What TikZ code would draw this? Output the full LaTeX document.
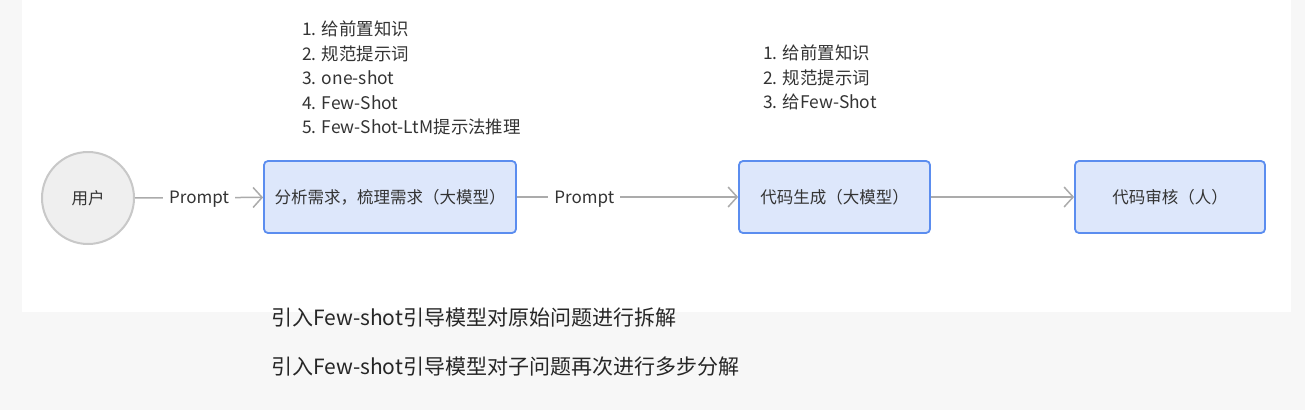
\documentclass[tikz,border=0pt]{standalone}
\usepackage{fontspec}
\setmainfont{Noto Sans CJK SC}
\usetikzlibrary{arrows.meta, positioning}
\definecolor{pageGray}{HTML}{F7F7F7}
\definecolor{stepFill}{HTML}{DDE7FB}
\definecolor{stepLine}{HTML}{5B8DEF}
\definecolor{userFill}{HTML}{EFEFEF}
\definecolor{userLine}{HTML}{C8C8C8}
\definecolor{flowLine}{HTML}{ABABAB}
\definecolor{tipText}{HTML}{333333}
\tikzset{stepbox/.style={draw=stepLine, line width=1.8pt, fill=stepFill, rounded corners=4pt,
    minimum width=#1, minimum height=72pt, inner sep=0pt, font=\fontsize{16.5}{16.5}\selectfont, text=tipText}}
\tikzset{flow/.style={draw=flowLine, line width=1.5pt, -{Straight Barb[length=9pt,width=20pt]}}}
\tikzset{tag/.style={fill=white, inner sep=6pt, text depth=0pt, text=tipText, font=\fontsize{17}{17}\selectfont}}
\tikzset{tip/.style={anchor=west, inner sep=0pt, text=tipText, font=\fontsize{17.4}{17.4}\selectfont}}
\tikzset{note/.style={anchor=west, inner sep=0pt, text=black!85, font=\fontsize{21}{21}\selectfont}}

\begin{document}
\begin{tikzpicture}[x=1pt, y=-1pt]
  \useasboundingbox (0,0) rectangle (1305,410);
  % Background
  \fill[pageGray] (0,0) rectangle (1305,410);
  \fill[white] (22,0) rectangle (1291,312);

  % Steps
  \node[circle, draw=userLine, line width=2pt, fill=userFill, minimum size=92pt, inner sep=0pt,
    text=tipText, font=\fontsize{16.5}{16.5}\selectfont] (user) at (88,198) {用户};
  \node[stepbox=252pt] (analyze) at (390,197) {分析需求，梳理需求（大模型）};
  \node[stepbox=191pt] (codegen) at (834.5,197) {代码生成（大模型）};
  \node[stepbox=190pt] (review) at (1170,197) {代码审核（人）};

  % Connectors
  \draw[flow] (user) -- (analyze) node[tag, midway] (promptA) {Prompt};
  \draw[flow] (analyze) -- (codegen) node[tag, pos=.305] (promptB) {Prompt};
  \draw[flow] (codegen) -- (review);

  % Prompt tips
  \foreach \i/\t in {1/1. 给前置知识, 2/2. 规范提示词, 3/3. one-shot, 4/4. Few-Shot, 5/5. Few-Shot-LtM提示法推理}
    \node[tip] (tipA-\i) at (302, 29+24.5*\i-24.5) {\t};
  \foreach \i/\t in {1/1. 给前置知识, 2/2. 规范提示词, 3/3. 给Few-Shot}
    \node[tip] (tipB-\i) at (763, 53+24.5*\i-24.5) {\t};

  % Notes
  \node[note] (noteA) at (271,318) {引入Few-shot引导模型对原始问题进行拆解};
  \node[note] (noteB) at (271,367) {引入Few-shot引导模型对子问题再次进行多步分解};
\end{tikzpicture}
\end{document}
